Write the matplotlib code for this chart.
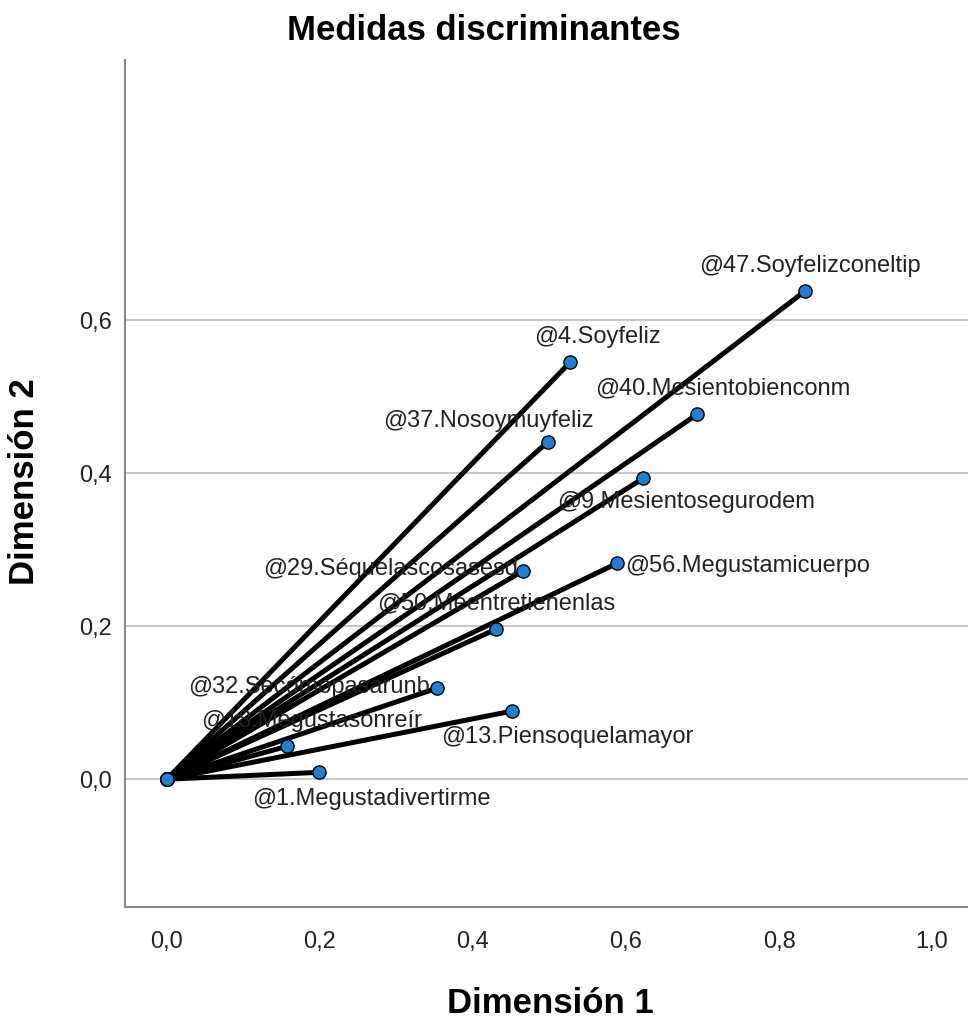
import matplotlib

matplotlib.use("Agg")
import matplotlib.pyplot as plt

plt.rcParams["font.family"] = ["Liberation Sans", "DejaVu Sans"]

# Medidas discriminantes por variable (dimension 1, dimension 2)
etiquetas = [
    "@47.Soyfelizconeltip",
    "@4.Soyfeliz",
    "@40.Mesientobienconm",
    "@37.Nosoymuyfeliz",
    "@9.Mesientosegurodem",
    "@56.Megustamicuerpo",
    "@29.Séquelascosasesd",
    "@50.Meentretienenlas",
    "@32.Sécómopasarunb",
    "@13.Piensoquelamayor",
    "@18.Megustasonreír",
    "@1.Megustadivertirme",
]
dim1 = [0.834, 0.527, 0.693, 0.498, 0.622, 0.588, 0.465, 0.430, 0.353, 0.451, 0.157, 0.199]
dim2 = [0.638, 0.545, 0.477, 0.441, 0.393, 0.282, 0.272, 0.196, 0.119, 0.089, 0.043, 0.009]

# Desplazamiento de cada etiqueta respecto a su punto (pixeles) y alineacion
desplazamientos = [
    (5, 25, "center"), (27, 25, "center"), (26, 26, "center"), (-60, 21, "center"),
    (43, -24, "center"), (8, -3, "left"), (-5, 2, "right"), (0, 26, "center"),
    (-7, 1, "right"), (55, -26, "center"), (24, 25, "center"), (52, -27, "center"),
]

fig = plt.figure(figsize=(9.68, 10.23), dpi=100)
ax = fig.add_axes([0.129, 0.1134, 0.871, 0.828])

for x, y in zip(dim1, dim2):
    ax.plot([0, x], [0, y], color="black", lw=3.6, solid_capstyle="round", zorder=3)
    ax.plot([0, x], [0, y], "o", ms=9.5, mfc="#1f7fd6", mec="black", mew=1, zorder=4)

for txt, x, y, (dx, dy, ha) in zip(etiquetas, dim1, dim2, desplazamientos):
    ax.annotate(txt, (x, y), xytext=(dx, dy), textcoords="offset pixels",
                ha=ha, va="center", fontsize=17, color="#222222", zorder=5)

ax.set_xlim(-0.055, 1.047)
ax.set_ylim(-0.167, 0.94)
ax.set_xticks([0, 0.2, 0.4, 0.6, 0.8, 1.0])
ax.set_yticks([0, 0.2, 0.4, 0.6])
ax.set_xticklabels(["0,0", "0,2", "0,4", "0,6", "0,8", "1,0"])
ax.set_yticklabels(["0,0", "0,2", "0,4", "0,6"])
ax.tick_params(length=0, labelsize=17, colors="#222222")
ax.tick_params(axis="x", pad=17)
ax.tick_params(axis="y", pad=9)
ax.grid(axis="y", color="#c8c8c8", lw=1.5, zorder=0)
for lado in ["top", "right"]:
    ax.spines[lado].set_visible(False)
for lado in ["left", "bottom"]:
    ax.spines[lado].set_color("#888888")
    ax.spines[lado].set_linewidth(1.5)

fig.text(0.5, 1 - 31 / 1023, "Medidas discriminantes", fontsize=25,
         fontweight="bold", ha="center", va="center")
ax.set_xlabel("Dimensión 1", fontsize=25, fontweight="bold")
ax.xaxis.set_label_coords(0.505, -0.094)
ax.set_ylabel("Dimensión 2", fontsize=25, fontweight="bold")
ax.yaxis.set_label_coords(-0.1, 0.502)

fig.savefig("out.png", dpi=100)
